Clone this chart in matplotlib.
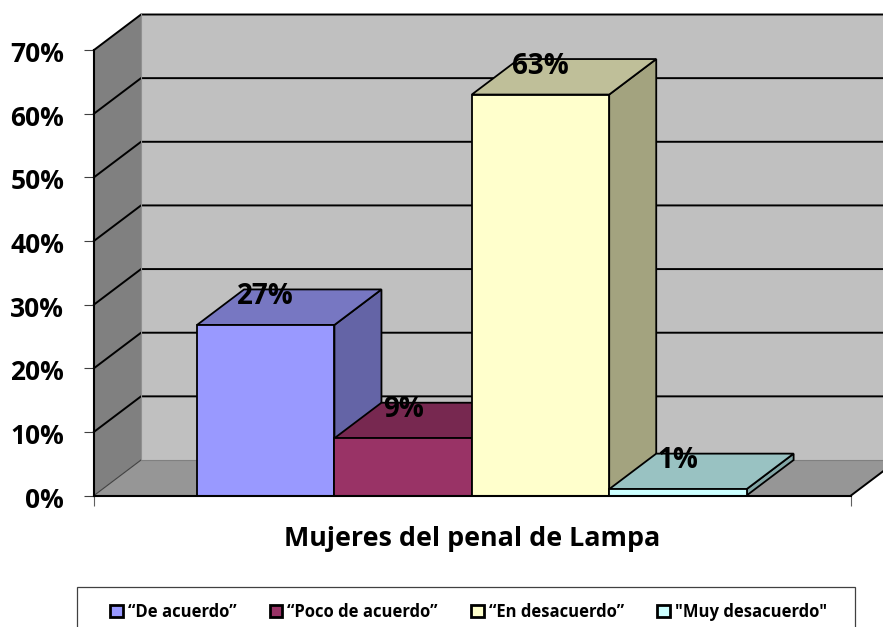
import matplotlib
matplotlib.use("Agg")
from matplotlib import pyplot as plt
from matplotlib.patches import Patch, Rectangle
from matplotlib.transforms import ScaledTranslation

categorias = ["“De acuerdo”", "“Poco de acuerdo”", "“En desacuerdo”", "\"Muy desacuerdo\""]
valores = [26.8, 9, 63, 1]
etiquetas = ["27%", "9%", "63%", "1%"]
yticks = [0, 10, 20, 30, 40, 50, 60, 70]
ytick_labels = ["0%", "10%", "20%", "30%", "40%", "50%", "60%", "70%"]

# front, top and side colours of every box
frente = ["#9999FF", "#993366", "#FFFFCC", "#CCFFFF"]
topo = ["#7777C2", "#772850", "#BFBF99", "#99C2C2"]
lado = ["#6464A6", "#662244", "#A3A37F", "#83A6A6"]

plt.rcParams["font.family"] = ["Open Sans", "DejaVu Sans"]
plt.rcParams["font.weight"] = "bold"

W, H = 883, 627
fig = plt.figure(figsize=(W / 100, H / 100), dpi=100)
# the axes is the front plane of the 3d box
ax = fig.add_axes([94 / W, 1 - 495.5 / H, 757 / W, 445.5 / H])
ax.set_xlim(-0.75, 4.76)
ax.set_ylim(0, 70)

# depth of the box in data units
dx = 47 / 137.3
dy = 35.5 / 6.364
x0, x1 = ax.get_xlim()
y0, y1 = ax.get_ylim()

# walls
ax.fill([x0 + dx, x1 + dx, x1 + dx, x0 + dx], [y0 + dy, y0 + dy, y1 + dy, y1 + dy],
        color="#C0C0C0", lw=0, clip_on=False, zorder=1)
ax.fill([x0, x0 + dx, x0 + dx, x0], [y0, y0 + dy, y1 + dy, y1],
        color="#808080", lw=0, clip_on=False, zorder=1)
ax.fill([x0, x1, x1 + dx, x0 + dx], [y0, y0, y0 + dy, y0 + dy],
        color="#969696", lw=0, clip_on=False, zorder=1)

# grid lines
for t in yticks[1:]:
    ax.plot([x0, x0 + dx, x1 + dx], [t, t + dy, t + dy], color="black", lw=1.4,
            clip_on=False, zorder=2, solid_joinstyle="miter")
ax.plot([x0, x0 + dx], [y0, y0 + dy], color="#404040", lw=0.8, clip_on=False, zorder=2)
ax.plot([x0 + dx, x0 + dx], [y0 + dy, y1 + dy], color="#909090", lw=0.8, clip_on=False, zorder=2)
ax.plot([x0 + dx, x1 + dx], [y0 + dy, y0 + dy], color="#808080", lw=0.8, clip_on=False, zorder=2)
ax.plot([x1, x1 + dx], [y0, y0 + dy], color="black", lw=1.4, clip_on=False, zorder=2)

# bars, from left to right so each one covers the side of the previous
z = 3
for i, v in enumerate(valores):
    ax.fill([i + 1, i + 1 + dx, i + 1 + dx, i + 1], [0, dy, v + dy, v], facecolor=lado[i],
            edgecolor="black", lw=1.3, clip_on=False, zorder=z)
    ax.fill([i, i + 1, i + 1 + dx, i + dx], [v, v, v + dy, v + dy], facecolor=topo[i],
            edgecolor="black", lw=1.3, clip_on=False, zorder=z)
    ax.bar(i, v, width=1, align="edge", color=frente[i], edgecolor="black", lw=1.3,
           clip_on=False, zorder=z + 0.5)
    z += 1

for i, v in enumerate(valores):
    ax.text(i + 0.5, v + dy * 0.80, etiquetas[i], ha="center", va="center", fontsize=20,
            fontweight="bold", color="black", zorder=20)

for s in ["top", "right"]:
    ax.spines[s].set_visible(False)
ax.spines["left"].set_linewidth(1.5)
ax.spines["bottom"].set_linewidth(1.5)
ax.spines["left"].set_zorder(2.5)
ax.spines["bottom"].set_zorder(10)
ax.set_yticks(yticks)
ax.set_yticklabels(ytick_labels, fontsize=19, fontweight="bold")
ax.tick_params(axis="y", length=7.5, width=0.8, color="#404040", pad=14)
# labels sit a little below their ticks in the reference
shift = ScaledTranslation(0, -1.5 / 100, fig.dpi_scale_trans)
for lab in ax.get_yticklabels():
    lab.set_transform(lab.get_transform() + shift)
ax.set_xticks([x0, x1])
ax.set_xticklabels(["", ""])
ax.tick_params(axis="x", length=7.5, width=0.8, color="#606060")
ax.set_xlabel("Mujeres del penal de Lampa", fontsize=19.4, fontweight="bold", labelpad=10.7)

# legend box runs past the bottom of the picture
fig.add_artist(Rectangle((77 / W, -20 / H), 778 / W, (H - 587 + 20) / H, transform=fig.transFigure,
                         facecolor="white", edgecolor="#404040", lw=0.9))
handles = [Patch(facecolor=frente[i], edgecolor="black", lw=2) for i in range(4)]
leg = fig.legend(handles, categorias, ncol=4, loc="center", bbox_to_anchor=(468.5 / W, 1 - 612 / H),
                 frameon=False, prop={"size": 12, "weight": "bold"}, handlelength=0.75,
                 handleheight=0.75, handletextpad=0.3, columnspacing=2.0, borderaxespad=0)

fig.savefig("out.png", dpi=100)
